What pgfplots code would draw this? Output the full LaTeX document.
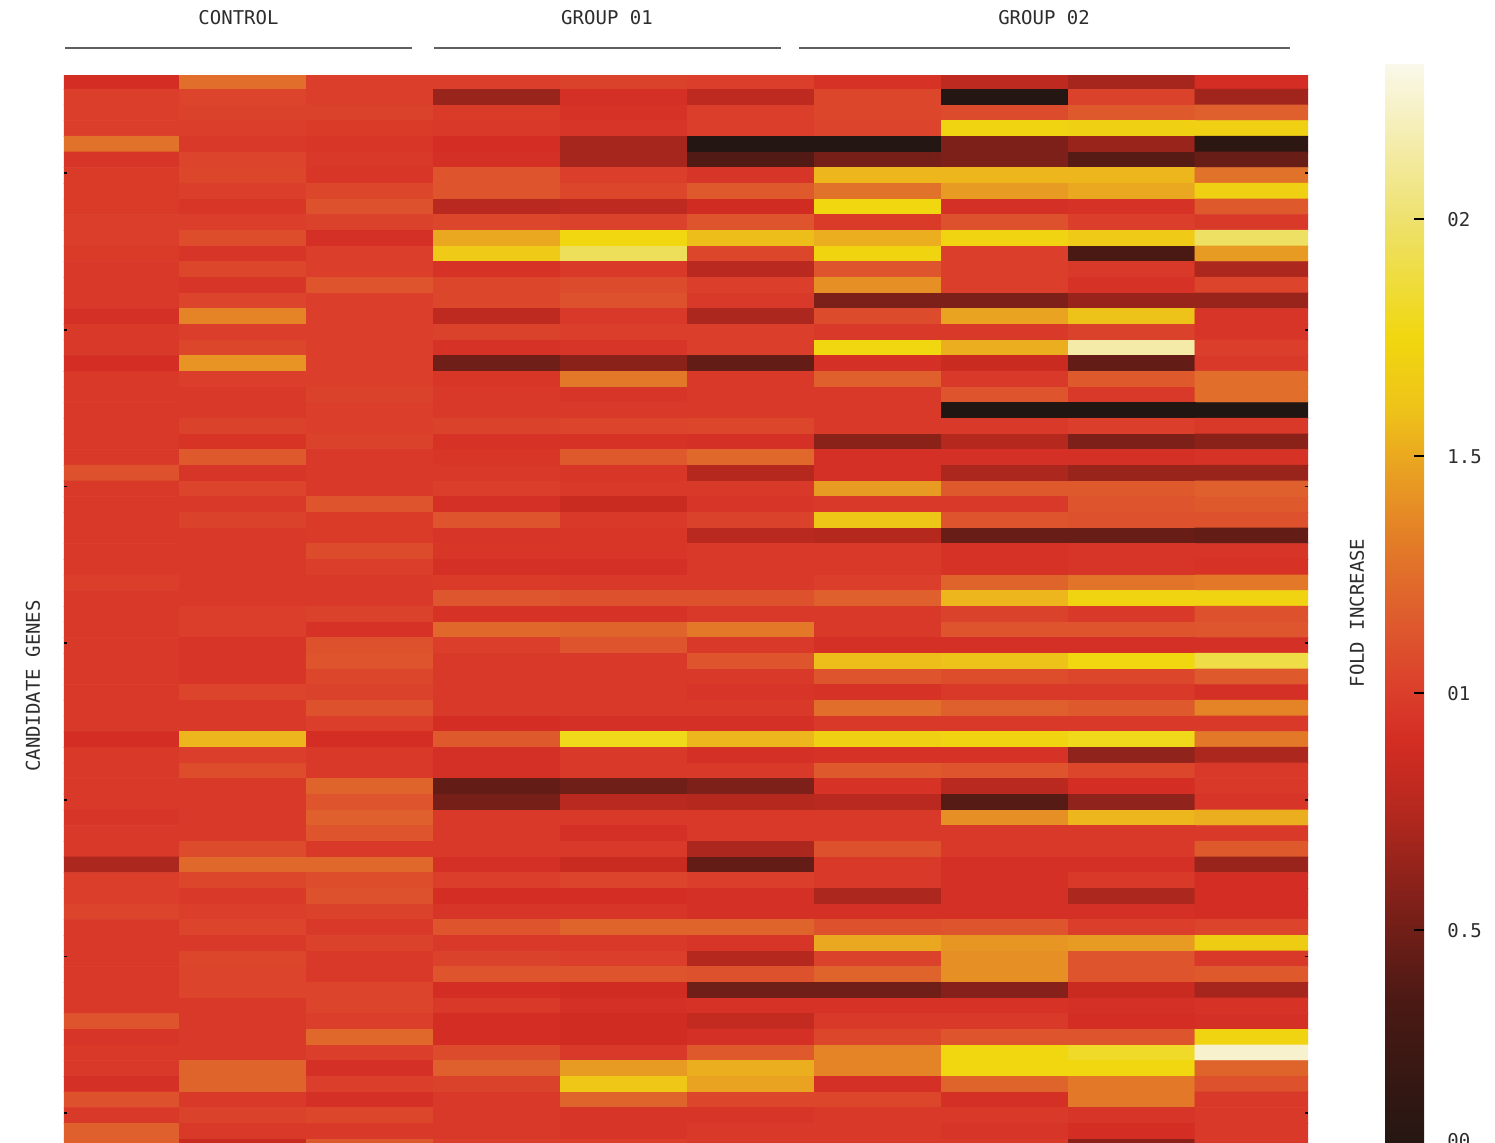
\documentclass[border=0pt]{standalone}
\usepackage{pgfplots}
\pgfplotsset{compat=1.18}
\usepackage{fontspec}
\setmainfont{DejaVu Sans Mono}
\newcommand\lbl{\fontsize{9.5}{11}\selectfont}
\definecolor{ink}{RGB}{45,45,45}
\definecolor{rule}{RGB}{95,95,95}

\begin{document}
\begin{tikzpicture}
\begin{axis}[
    at={(32pt,-37.5pt)}, anchor=north west,
    scale only axis, width=622pt, height=539.85pt,
    xmin=-0.406, xmax=9.39,
    ymin=-0.417, ymax=68.5,
    y dir=reverse,
    enlargelimits=false,
    axis line style={draw=none},
    axis on top,
    xtick=\empty,
    ytick={5.85,15.85,25.85,35.85,45.85,55.85,65.85},
    yticklabels={,,,,,,},
    tick align=inside,
    major tick length=1.5pt,
    major tick style={black, line width=0.9pt},
    colormap={fold}{
        rgb255(0pt)=(30,22,18)
        rgb255(35pt)=(75,25,20)
        rgb255(55pt)=(125,32,25)
        rgb255(75pt)=(180,40,30)
        rgb255(90pt)=(212,45,35)
        rgb255(100pt)=(219,62,43)
        rgb255(115pt)=(222,90,45)
        rgb255(130pt)=(226,120,40)
        rgb255(145pt)=(232,155,35)
        rgb255(160pt)=(238,195,25)
        rgb255(175pt)=(240,215,15)
        rgb255(200pt)=(238,225,110)
        rgb255(233pt)=(250,248,235)
    },
    point meta min=0, point meta max=2.33,
    colorbar,
    colorbar/width=19.5pt,
    colorbar style={
        at={(parent axis.north east)}, anchor=north west,
        xshift=30pt, yshift=6pt,
        width=19.5pt, height=552.15pt,
        scale only axis,
        axis line style={draw=none},
        axis on top,
        ytick pos=right,
        yticklabel pos=right,
        ytick={0.5,1,1.5,2},
        yticklabels={0.5,01,1.5,02},
        extra y ticks={0},
        extra y tick labels={00},
        extra y tick style={yticklabel style={yshift=13.5pt}},
        tick align=inside,
        major tick length=5pt,
        major tick style={black, line width=1pt},
        yticklabel style={font=\lbl, text=ink, anchor=west, inner sep=0pt, xshift=11.5pt},
    },
]
% fold increase, one line per gene (row), columns: control x3, group 01 x3, group 02 x4
\addplot[matrix plot*, mesh/cols=10, point meta=explicit]
  table[row sep=\\,
        x expr={\coordindex-10*floor((\coordindex+0.5)/10)},
        y expr={floor((\coordindex+0.5)/10)},
        meta=v] {
v\\
0.90\\ 1.25\\ 1.00\\ 1.00\\ 1.02\\ 1.00\\ 0.93\\ 0.80\\ 0.70\\ 0.90\\
1.00\\ 1.03\\ 1.00\\ 0.65\\ 0.92\\ 0.80\\ 1.05\\ 0.05\\ 1.02\\ 0.68\\
1.00\\ 1.02\\ 1.02\\ 0.98\\ 0.93\\ 1.00\\ 1.05\\ 1.07\\ 1.15\\ 1.18\\
1.00\\ 1.00\\ 0.98\\ 0.97\\ 0.95\\ 1.00\\ 1.03\\ 1.72\\ 1.70\\ 1.70\\
1.27\\ 0.97\\ 0.96\\ 0.90\\ 0.70\\ 0.05\\ 0.05\\ 0.55\\ 0.65\\ 0.12\\
0.95\\ 1.03\\ 0.97\\ 0.92\\ 0.70\\ 0.38\\ 0.52\\ 0.55\\ 0.40\\ 0.47\\
0.98\\ 1.05\\ 0.96\\ 1.12\\ 1.00\\ 0.95\\ 1.55\\ 1.55\\ 1.55\\ 1.27\\
0.98\\ 1.00\\ 1.05\\ 1.12\\ 1.05\\ 1.15\\ 1.27\\ 1.45\\ 1.50\\ 1.70\\
0.98\\ 0.96\\ 1.10\\ 0.78\\ 0.80\\ 0.88\\ 1.75\\ 0.92\\ 0.93\\ 1.15\\
1.00\\ 1.00\\ 1.02\\ 1.05\\ 1.02\\ 1.12\\ 0.98\\ 1.10\\ 1.00\\ 0.97\\
1.00\\ 1.08\\ 0.92\\ 1.50\\ 1.75\\ 1.58\\ 1.52\\ 1.72\\ 1.65\\ 1.97\\
0.98\\ 0.95\\ 1.00\\ 1.65\\ 1.95\\ 1.05\\ 1.73\\ 1.00\\ 0.35\\ 1.45\\
0.97\\ 1.05\\ 1.00\\ 0.93\\ 0.97\\ 0.78\\ 1.12\\ 1.00\\ 0.97\\ 0.72\\
0.97\\ 0.95\\ 1.12\\ 1.05\\ 1.07\\ 1.00\\ 1.40\\ 1.00\\ 0.93\\ 1.03\\
0.97\\ 1.03\\ 1.00\\ 1.05\\ 1.10\\ 0.97\\ 0.55\\ 0.55\\ 0.65\\ 0.65\\
0.92\\ 1.35\\ 1.00\\ 0.80\\ 0.97\\ 0.72\\ 1.07\\ 1.48\\ 1.60\\ 0.95\\
0.97\\ 1.00\\ 1.00\\ 1.02\\ 1.00\\ 1.00\\ 0.97\\ 0.97\\ 1.02\\ 0.95\\
0.97\\ 1.05\\ 1.00\\ 0.93\\ 0.95\\ 1.00\\ 1.75\\ 1.52\\ 2.15\\ 1.00\\
0.90\\ 1.42\\ 1.00\\ 0.50\\ 0.60\\ 0.45\\ 0.92\\ 0.85\\ 0.45\\ 0.97\\
0.97\\ 1.00\\ 1.00\\ 0.96\\ 1.30\\ 0.97\\ 1.18\\ 0.97\\ 1.15\\ 1.25\\
0.97\\ 0.97\\ 1.02\\ 0.97\\ 0.95\\ 0.97\\ 0.97\\ 1.12\\ 0.97\\ 1.25\\
0.97\\ 0.97\\ 1.00\\ 0.97\\ 0.97\\ 0.97\\ 0.97\\ 0.02\\ 0.02\\ 0.02\\
0.97\\ 1.02\\ 1.00\\ 1.02\\ 1.03\\ 1.05\\ 0.97\\ 0.97\\ 1.00\\ 0.97\\
0.97\\ 0.94\\ 1.02\\ 0.93\\ 0.93\\ 0.92\\ 0.60\\ 0.75\\ 0.55\\ 0.60\\
0.97\\ 1.15\\ 0.97\\ 0.96\\ 1.15\\ 1.22\\ 0.92\\ 0.92\\ 0.92\\ 0.93\\
1.10\\ 0.95\\ 0.97\\ 0.97\\ 0.96\\ 0.75\\ 0.92\\ 0.72\\ 0.65\\ 0.65\\
0.97\\ 1.03\\ 0.97\\ 1.00\\ 0.97\\ 0.97\\ 1.45\\ 1.15\\ 1.15\\ 1.18\\
0.97\\ 0.97\\ 1.12\\ 0.92\\ 0.85\\ 0.95\\ 0.97\\ 0.97\\ 1.12\\ 1.15\\
0.97\\ 1.02\\ 0.98\\ 1.12\\ 0.97\\ 1.02\\ 1.62\\ 1.12\\ 1.10\\ 1.10\\
0.97\\ 0.97\\ 0.98\\ 0.95\\ 0.96\\ 0.78\\ 0.75\\ 0.47\\ 0.47\\ 0.45\\
0.97\\ 0.97\\ 1.07\\ 0.96\\ 0.96\\ 0.97\\ 0.97\\ 0.93\\ 0.95\\ 0.95\\
0.97\\ 0.97\\ 1.00\\ 0.92\\ 0.92\\ 0.97\\ 0.97\\ 0.93\\ 0.95\\ 0.93\\
1.00\\ 0.97\\ 0.97\\ 0.98\\ 0.97\\ 0.97\\ 1.00\\ 1.20\\ 1.28\\ 1.30\\
0.97\\ 0.97\\ 0.97\\ 1.13\\ 1.10\\ 1.10\\ 1.18\\ 1.55\\ 1.72\\ 1.72\\
0.97\\ 1.00\\ 1.02\\ 0.93\\ 0.93\\ 0.97\\ 0.97\\ 1.02\\ 0.97\\ 1.10\\
0.97\\ 1.00\\ 0.93\\ 1.22\\ 1.20\\ 1.30\\ 0.97\\ 1.12\\ 1.12\\ 1.13\\
0.97\\ 0.95\\ 1.10\\ 1.00\\ 1.12\\ 0.97\\ 0.92\\ 0.92\\ 0.92\\ 0.92\\
0.97\\ 0.95\\ 1.12\\ 0.97\\ 0.97\\ 1.12\\ 1.58\\ 1.60\\ 1.75\\ 1.90\\
0.97\\ 0.95\\ 1.05\\ 0.97\\ 0.97\\ 0.97\\ 1.12\\ 1.08\\ 1.05\\ 1.15\\
0.97\\ 1.03\\ 1.02\\ 0.97\\ 0.97\\ 0.95\\ 0.93\\ 0.97\\ 0.97\\ 0.92\\
0.97\\ 0.97\\ 1.10\\ 0.97\\ 0.97\\ 0.97\\ 1.25\\ 1.18\\ 1.15\\ 1.35\\
0.97\\ 0.97\\ 1.00\\ 0.90\\ 0.92\\ 0.92\\ 0.97\\ 0.97\\ 0.97\\ 0.97\\
0.90\\ 1.55\\ 0.90\\ 1.15\\ 1.78\\ 1.55\\ 1.70\\ 1.72\\ 1.78\\ 1.30\\
0.97\\ 1.00\\ 0.97\\ 0.92\\ 0.97\\ 0.92\\ 0.93\\ 0.93\\ 0.62\\ 0.72\\
0.97\\ 1.08\\ 0.97\\ 0.92\\ 0.97\\ 0.97\\ 1.15\\ 1.12\\ 1.05\\ 0.97\\
0.97\\ 0.97\\ 1.20\\ 0.45\\ 0.50\\ 0.55\\ 0.93\\ 0.78\\ 0.90\\ 0.97\\
0.97\\ 0.97\\ 1.12\\ 0.52\\ 0.78\\ 0.75\\ 0.78\\ 0.40\\ 0.62\\ 0.95\\
0.95\\ 0.97\\ 1.18\\ 0.97\\ 0.97\\ 0.97\\ 0.97\\ 1.40\\ 1.55\\ 1.52\\
0.97\\ 0.97\\ 1.12\\ 0.97\\ 0.92\\ 0.97\\ 0.97\\ 0.97\\ 0.97\\ 0.97\\
0.97\\ 1.07\\ 0.97\\ 0.97\\ 0.97\\ 0.72\\ 1.10\\ 0.97\\ 0.97\\ 1.15\\
0.72\\ 1.22\\ 1.22\\ 0.92\\ 0.85\\ 0.45\\ 0.97\\ 0.92\\ 0.92\\ 0.65\\
1.00\\ 1.05\\ 1.08\\ 1.00\\ 1.03\\ 1.00\\ 0.97\\ 0.92\\ 0.97\\ 0.90\\
1.00\\ 0.97\\ 1.10\\ 0.90\\ 0.90\\ 0.92\\ 0.72\\ 0.92\\ 0.72\\ 0.90\\
1.03\\ 1.00\\ 1.02\\ 0.95\\ 0.95\\ 0.92\\ 0.92\\ 0.92\\ 0.92\\ 0.90\\
0.97\\ 1.03\\ 0.97\\ 1.12\\ 1.20\\ 1.20\\ 1.10\\ 1.12\\ 1.00\\ 1.03\\
0.97\\ 0.97\\ 1.02\\ 0.97\\ 0.97\\ 0.95\\ 1.50\\ 1.43\\ 1.45\\ 1.67\\
0.97\\ 1.05\\ 0.97\\ 1.02\\ 1.00\\ 0.75\\ 1.02\\ 1.40\\ 1.12\\ 0.97\\
0.97\\ 1.03\\ 0.97\\ 1.12\\ 1.12\\ 1.10\\ 1.20\\ 1.40\\ 1.12\\ 1.15\\
0.97\\ 1.03\\ 1.03\\ 0.90\\ 0.88\\ 0.50\\ 0.50\\ 0.58\\ 0.85\\ 0.70\\
0.97\\ 0.97\\ 1.03\\ 0.97\\ 0.92\\ 0.93\\ 0.93\\ 0.93\\ 0.92\\ 0.93\\
1.12\\ 0.97\\ 1.00\\ 0.90\\ 0.88\\ 0.82\\ 0.97\\ 0.97\\ 0.90\\ 0.92\\
0.95\\ 0.97\\ 1.22\\ 0.90\\ 0.88\\ 0.92\\ 1.05\\ 1.12\\ 1.12\\ 1.72\\
0.97\\ 0.97\\ 1.00\\ 1.07\\ 0.97\\ 1.15\\ 1.35\\ 1.75\\ 1.82\\ 2.25\\
0.97\\ 1.20\\ 0.92\\ 1.18\\ 1.45\\ 1.52\\ 1.35\\ 1.75\\ 1.75\\ 1.20\\
0.92\\ 1.20\\ 1.00\\ 1.02\\ 1.63\\ 1.48\\ 0.92\\ 1.20\\ 1.30\\ 1.10\\
1.10\\ 0.97\\ 0.92\\ 0.97\\ 1.20\\ 1.05\\ 1.05\\ 0.92\\ 1.30\\ 0.97\\
0.97\\ 1.02\\ 1.05\\ 0.97\\ 0.95\\ 0.95\\ 0.97\\ 0.97\\ 0.95\\ 0.97\\
1.18\\ 0.97\\ 0.97\\ 0.97\\ 0.95\\ 0.97\\ 0.97\\ 0.95\\ 0.90\\ 0.97\\
1.18\\ 0.85\\ 1.15\\ 1.00\\ 1.00\\ 0.97\\ 0.97\\ 0.97\\ 0.60\\ 0.97\\
};
\end{axis}

% group headers and axis titles, positions in pixels of the 1495x1142 frame
\begin{scope}[x=0.5pt, y=-0.5pt, every node/.style={font=\lbl, text=ink, inner sep=0pt}]
  \node at (238.5,18) {CONTROL};
  \node at (607,18) {GROUP 01};
  \node at (1044,18) {GROUP 02};
  \draw[rule, line width=0.75pt] (65,48) -- (412,48);
  \draw[rule, line width=0.75pt] (434,48) -- (781,48);
  \draw[rule, line width=0.75pt] (799,48) -- (1290,48);
  \node[rotate=90] at (33,686) {CANDIDATE GENES};
  \node[rotate=90] at (1357,613) {FOLD INCREASE};
\end{scope}

\pgfresetboundingbox
\useasboundingbox (0,0) rectangle (747.5pt,-571pt);
\end{tikzpicture}
\end{document}
